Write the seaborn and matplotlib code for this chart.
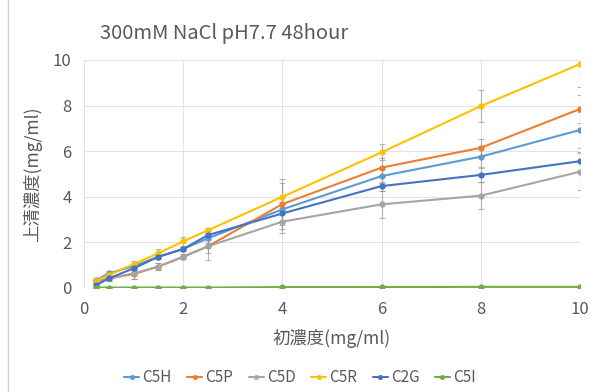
import matplotlib
matplotlib.use("Agg")
import matplotlib.pyplot as plt
import seaborn as sns
import pandas as pd
import numpy as np

x_vals = [0.25, 0.5, 1, 1.5, 2, 2.5, 4, 6, 8, 10]
series_names = ["C5H", "C5P", "C5D", "C5R", "C2G", "C5I"]
c5h = [0.35, 0.64, 0.96, 1.37, 1.71, 2.18, 3.45, 4.91, 5.76, 6.93]
c5p = [0.30, 0.42, 0.61, 0.94, 1.37, 1.83, 3.68, 5.28, 6.15, 7.85]
c5d = [0.25, 0.42, 0.64, 0.94, 1.37, 1.83, 2.91, 3.67, 4.05, 5.10]
c5r = [0.31, 0.57, 1.05, 1.52, 2.05, 2.53, 4.00, 5.95, 7.98, 9.82]
c2g = [0.13, 0.42, 0.86, 1.37, 1.71, 2.32, 3.27, 4.47, 4.96, 5.56]
c5i = [0.02, 0.02, 0.02, 0.02, 0.02, 0.02, 0.04, 0.04, 0.05, 0.05]

err_c5h = [0.05, 0.10, 0.15, 0.10, 0.10, 0.20, 0.60, 0.30, 0.45, 0.80]
err_c5p = [0.05, 0.10, 0.20, 0.15, 0.10, 0.30, 1.10, 0.40, 0.40, 0.60]
err_c5d = [0.05, 0.10, 0.25, 0.15, 0.10, 0.60, 0.50, 0.60, 0.60, 0.80]
err_c5r = [0.05, 0.10, 0.15, 0.20, 0.20, 0.10, 0.60, 0.35, 0.70, 1.00]
err_c2g = [0.05, 0.10, 0.10, 0.10, 0.10, 0.20, 0.50, 0.20, 0.30, 0.40]
err_c5i = [0.01] * 10

values = [c5h, c5p, c5d, c5r, c2g, c5i]
errors = [err_c5h, err_c5p, err_c5d, err_c5r, err_c2g, err_c5i]
colors = ["#5B9BD5", "#ED7D31", "#A5A5A5", "#FFC000", "#4472C4", "#70AD47"]

title = "300mM NaCl pH7.7 48hour"
xlabel = "初濃度(mg/ml)"
ylabel = "上清濃度(mg/ml)"

rows = []
for name, vals, errs in zip(series_names, values, errors):
    for xv, v, e in zip(x_vals, vals, errs):
        rows.append({"x": xv, "y": v, "err": e, "series": name})
df = pd.DataFrame(rows)

sns.set_theme(style="white")
plt.rcParams["font.family"] = ["Noto Sans CJK JP", "DejaVu Sans"]
text_color = "#595959"

fig = plt.figure(figsize=(5.96, 3.92), dpi=100)
ax = fig.add_axes([84 / 596, 1 - 288 / 392, 496 / 596, 228 / 392])

# error bars
for name, col in zip(series_names, colors):
    sub = df[df.series == name]
    ax.errorbar(sub.x, sub.y, yerr=sub.err, fmt="none", ecolor="#8c8c8c",
                elinewidth=0.8, capsize=2, capthick=0.8, alpha=0.6, zorder=2)

sns.lineplot(data=df, x="x", y="y", hue="series", hue_order=series_names,
             palette=colors, marker="o", markersize=4.5, markeredgewidth=0,
             linewidth=1.5, ax=ax, zorder=3, legend=True)

ax.set_xlim(0, 10)
ax.set_ylim(0, 10)
ax.set_xticks([0, 2, 4, 6, 8, 10])
ax.set_yticks([0, 2, 4, 6, 8, 10])
ax.grid(True, color="#e3e3e3", linewidth=0.8)
ax.set_axisbelow(True)
for s in ax.spines.values():
    s.set_visible(False)
ax.tick_params(axis="both", colors=text_color, labelsize=12, length=0, pad=9)
ax.set_xlabel(xlabel, color=text_color, fontsize=12.5, labelpad=8)
ax.set_ylabel(ylabel, color=text_color, fontsize=12.5, labelpad=8)

fig.text(100 / 596, 1 - 33 / 392, title, ha="left", va="center",
         fontsize=14.5, color=text_color)

handles, labels = ax.get_legend_handles_labels()
ax.legend(handles, labels, loc="center", bbox_to_anchor=(300 / 596, 1 - 378 / 392),
          bbox_transform=fig.transFigure, ncol=6, frameon=False, fontsize=11,
          labelcolor=text_color, handlelength=1.0, handletextpad=0.2,
          columnspacing=1.0, markerscale=0.8)

# left border line seen in the reference
fig.add_artist(plt.Line2D([8 / 596, 8 / 596], [0, 1], color="#d0d0d0", linewidth=1))

fig.savefig("out.png", dpi=100)
